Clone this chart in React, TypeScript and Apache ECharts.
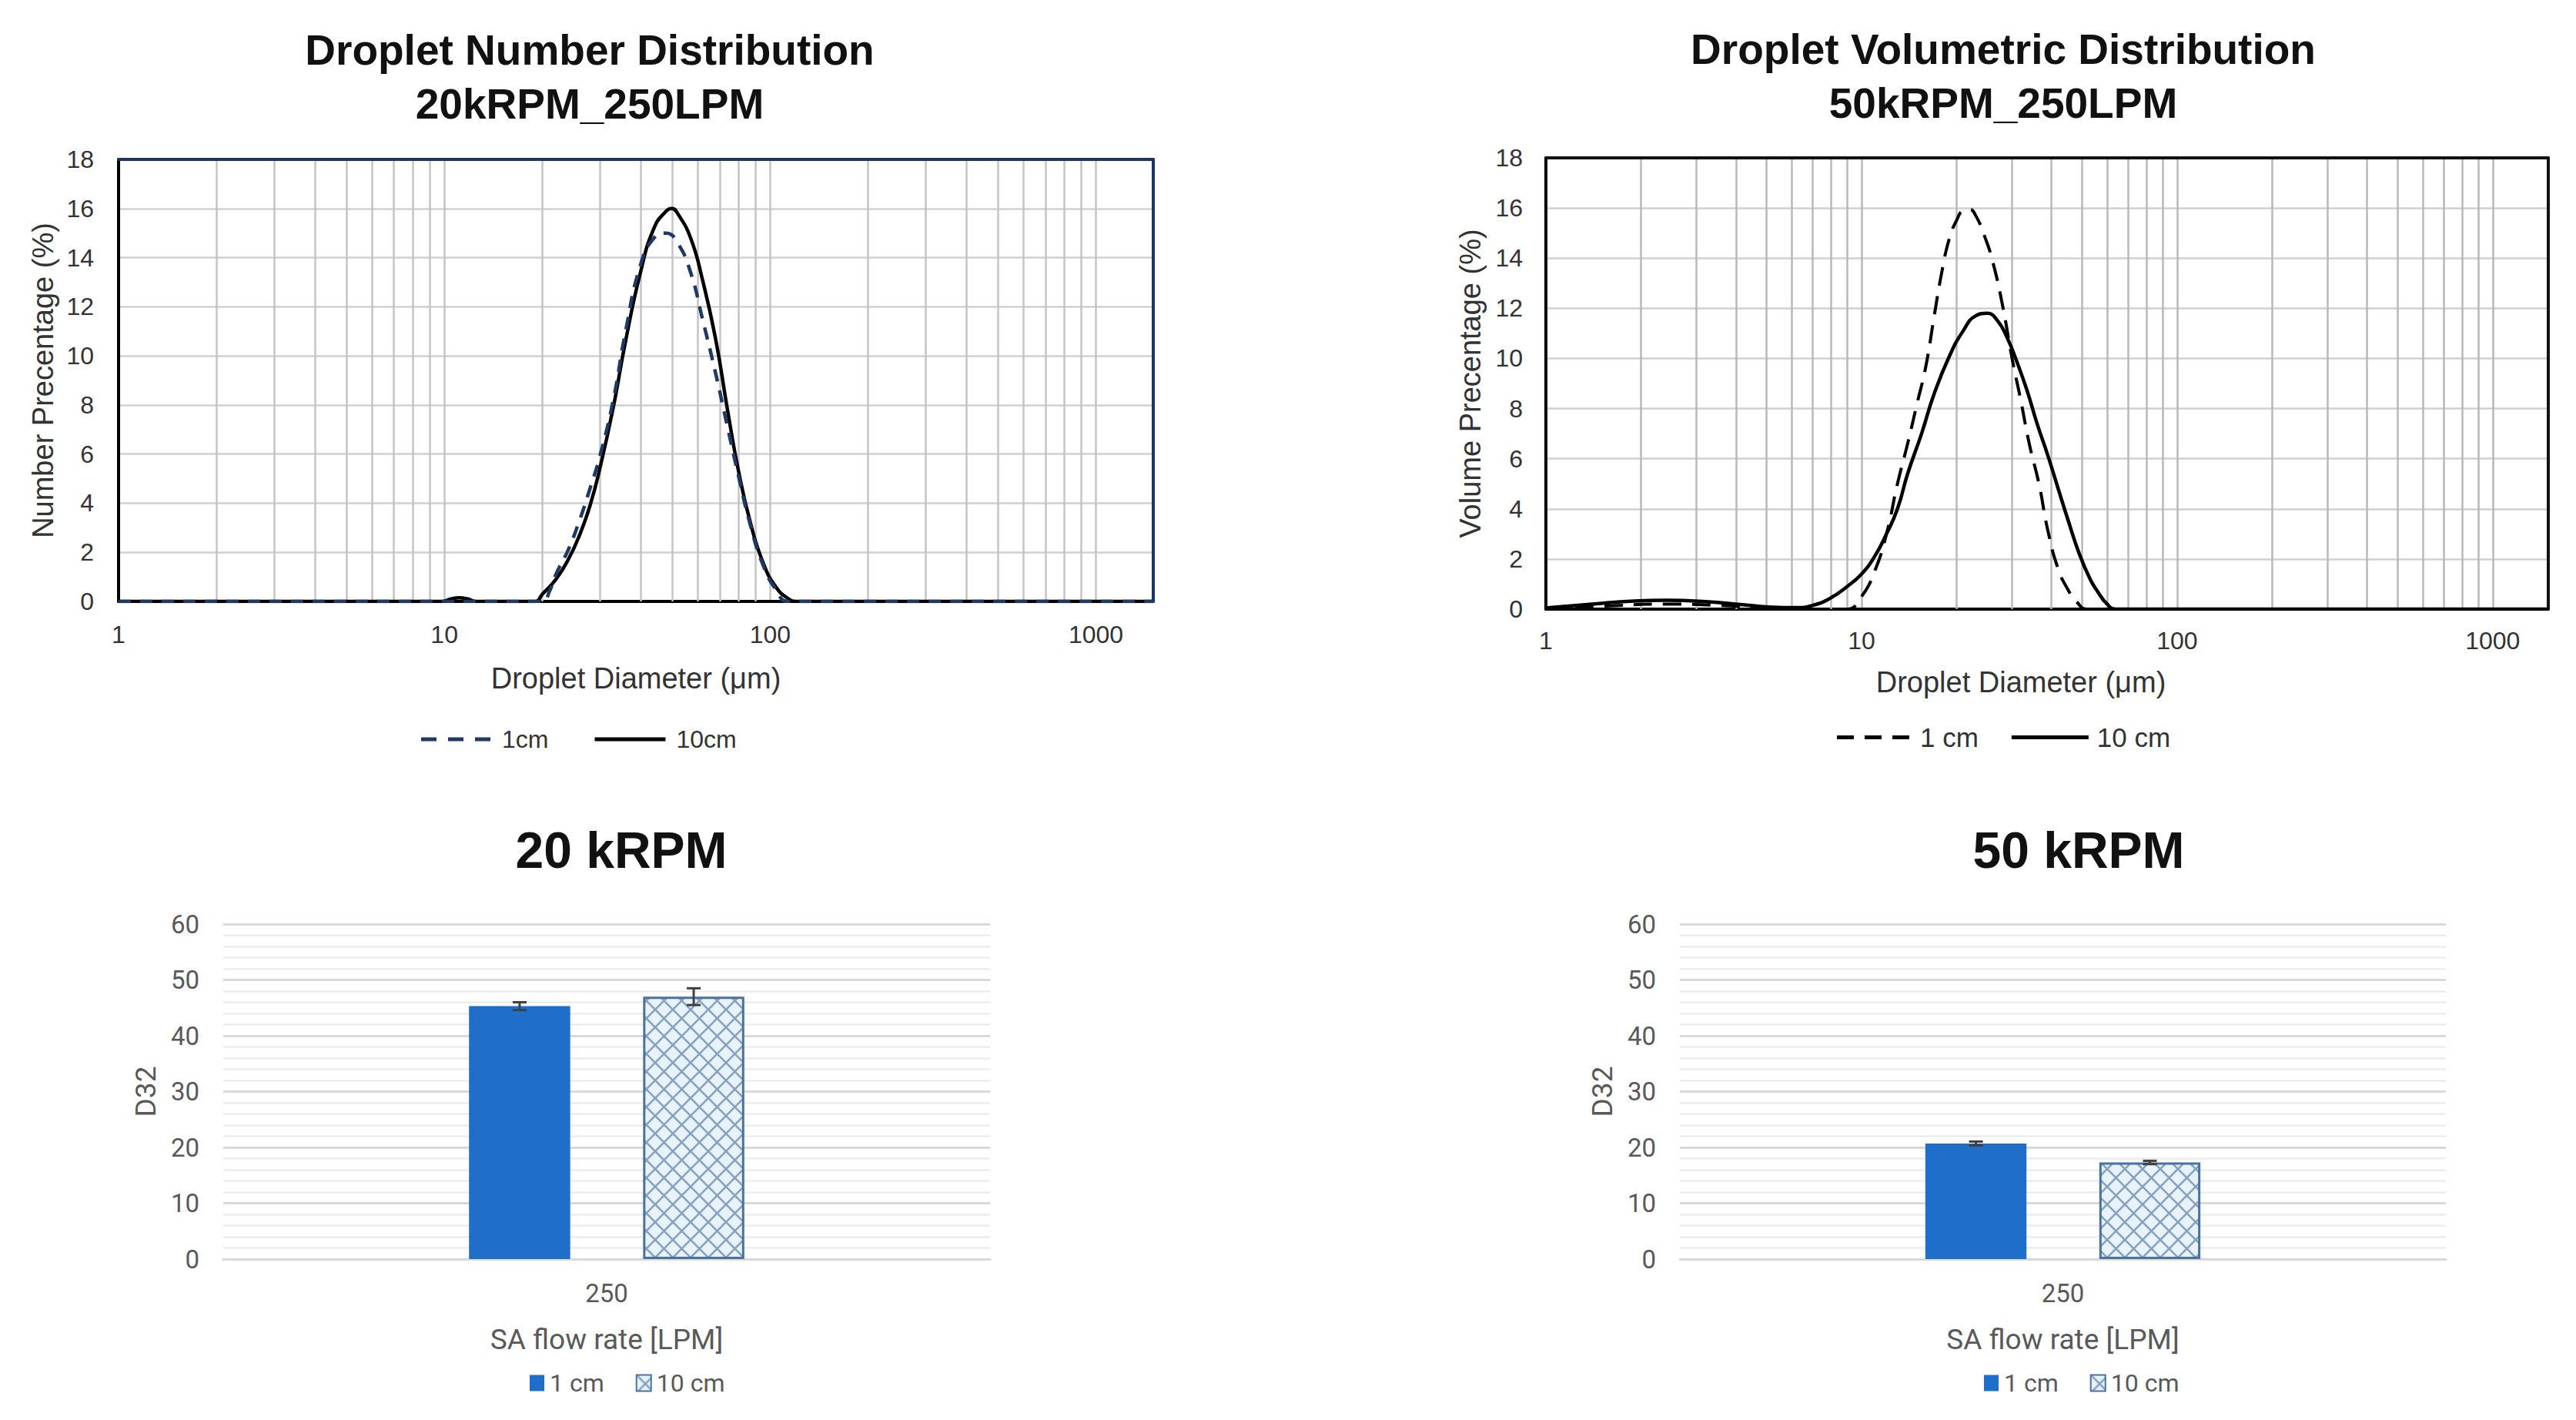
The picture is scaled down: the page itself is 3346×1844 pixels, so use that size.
import React, { useEffect, useRef } from "react";
import * as echarts from "echarts";

// ---------- data ----------
const X_MINOR_GRID = [2, 3, 4, 5, 6, 7, 8, 9, 20, 30, 40, 50, 60, 70, 80, 90, 200, 300, 400, 500, 600, 700, 800, 900];

// Top-left: Droplet Number Distribution 20kRPM_250LPM (diameter µm, number %)
const TL_1CM_D = [1, 20, 21, 22, 24, 26, 28, 30, 33, 36, 40, 44, 48, 52, 57, 62, 68, 74, 80, 87, 95, 104, 114, 1500];
const TL_1CM_V = [0, 0, 0.4, 1.1, 2.1, 3.3, 4.6, 5.9, 8.2, 11, 13.7, 14.8, 15, 14.6, 13.4, 11.5, 9.3, 7.1, 5.1, 3.1, 1.5, 0.5, 0, 0];
const TL_10CM_D = [1, 9.8, 10.5, 11.1, 11.8, 12.5, 19, 20, 22, 24, 26, 28, 30, 33, 36, 40, 44, 48, 50, 52, 57, 62, 68, 74, 80, 87, 95, 104, 114, 120, 1500];
const TL_10CM_V = [0, 0, 0.1, 0.15, 0.1, 0, 0, 0.3, 0.9, 1.7, 2.7, 3.9, 5.4, 7.9, 10.6, 13.4, 15.2, 15.9, 16, 15.8, 14.8, 13.1, 10.7, 7.8, 5.3, 3.2, 1.6, 0.6, 0.1, 0, 0];

// Top-right: Droplet Volumetric Distribution 50kRPM_250LPM (diameter µm, volume %)
const TR_1CM_D = [1, 1.5, 2.4, 3.5, 5, 6.5, 9, 10, 11, 12, 13, 14, 15, 16, 17, 18, 19, 20, 21, 22, 23, 24.5, 26, 28, 30, 32, 34, 36.5, 39, 42, 45, 48, 52, 1500];
const TR_1CM_V = [0.03, 0.12, 0.2, 0.15, 0.05, 0, 0, 0.5, 1.5, 3, 5, 6.6, 8.2, 9.7, 11.7, 13.5, 14.8, 15.5, 15.9, 15.95, 15.7, 14.9, 13.9, 12.1, 10, 8.3, 6.6, 5, 3.1, 1.6, 0.8, 0.3, 0, 0];
const TR_10CM_D = [1, 1.4, 1.9, 2.4, 3.2, 4.2, 5.2, 6.2, 7, 8, 9, 10, 11, 12, 13, 14, 15.5, 17, 19, 21, 23, 25, 27, 29, 31, 33.5, 36, 39, 42, 45, 49, 53, 56, 60, 64, 1500];
const TR_10CM_V = [0.05, 0.2, 0.32, 0.35, 0.3, 0.18, 0.08, 0.06, 0.15, 0.45, 0.9, 1.4, 2.1, 3, 4, 5.4, 7, 8.6, 10.1, 11.1, 11.7, 11.8, 11.5, 10.8, 9.9, 8.7, 7.4, 6.1, 4.8, 3.6, 2.2, 1.2, 0.7, 0.2, 0, 0];

// Bottom: D32 at SA flow rate 250 LPM
const FLOW_CATEGORIES = ["250"];
const D32_20K = [45.3, 47.0]; // 1 cm, 10 cm
const D32_20K_ERR = [0.7, 1.5];
const D32_50K = [20.7, 17.3];
const D32_50K_ERR = [0.35, 0.3];

// ---------- styles ----------
const ARIAL = "'Liberation Sans', Arial, sans-serif";
const CALIBRI = "'Liberation Sans Narrow', 'Roboto', sans-serif";
const BAR_BLUE = "#1f6fca";
const HATCH_BORDER = "#4a72a0";
const BAR_W = 0.132;
const BAR_GAP = 0.72;
const BAR_OFFSET_FRAC = (BAR_W * (1 + BAR_GAP)) / 2;

const hatchSvg =
  "<svg xmlns='http://www.w3.org/2000/svg' width='23' height='23'>" +
  "<rect width='23' height='23' fill='#e8f2fb'/>" +
  "<path d='M0 0L23 23M23 0L0 23' stroke='#86a2c0' stroke-width='2.6'/></svg>";
const HATCH = {
  image: "data:image/svg+xml;charset=utf-8," + encodeURIComponent(hatchSvg),
  repeat: "repeat",
  imageWidth: 23,
  imageHeight: 23,
};

const zip = (d: number[], v: number[]) => d.map((x, i) => [x, v[i]]);

const pow10Label = (v: number) => {
  const l = Math.log10(v);
  return Math.abs(l - Math.round(l)) < 1e-6 ? String(Math.round(v)) : "";
};

function gridMarkLine(color: string) {
  return {
    silent: true,
    symbol: ["none", "none"],
    z: 1,
    label: { show: false },
    emphasis: { disabled: true },
    lineStyle: { color, width: 2.5, type: "solid" },
    data: X_MINOR_GRID.map((v) => ({ xAxis: v })),
  };
}

function distAxes(gi: number, opts: any) {
  const xAxes = [
    {
      type: "log",
      gridIndex: gi,
      min: 1,
      max: 1500,
      logBase: 10,
      axisLine: { show: true, onZero: false, lineStyle: { color: "#000", width: 4 } },
      axisTick: { show: false },
      axisLabel: { formatter: pow10Label, margin: opts.labelMargin, fontSize: 32, color: "#333", fontFamily: ARIAL },
      splitLine: { show: true, lineStyle: { color: opts.vGrid, width: 2.5 } },
      name: "Droplet Diameter (μm)",
      nameLocation: "middle",
      nameGap: opts.xNameGap,
      nameTextStyle: { fontSize: 38, color: "#333", fontFamily: ARIAL, padding: opts.xNamePad },
    },
    {
      type: "value",
      gridIndex: gi,
      position: "top",
      min: 0,
      max: 1,
      z: 3,
      axisLine: { show: true, onZero: false, lineStyle: { color: opts.border, width: 4 } },
      axisTick: { show: false },
      axisLabel: { show: false },
      splitLine: { show: false },
    },
  ];
  const yAxes = [
    {
      type: "value",
      gridIndex: gi,
      min: 0,
      max: 18,
      interval: 2,
      axisLine: { show: true, onZero: false, lineStyle: { color: "#000", width: 4 } },
      axisTick: { show: false },
      axisLabel: { margin: opts.yLabelMargin, fontSize: 32, color: "#333", fontFamily: ARIAL },
      splitLine: { show: true, lineStyle: { color: "#d0d0d0", width: 2.5 } },
      name: opts.yName,
      nameLocation: "middle",
      nameGap: 79,
      nameTextStyle: { fontSize: 38, color: "#333", fontFamily: ARIAL },
    },
    {
      type: "value",
      gridIndex: gi,
      position: "right",
      min: 0,
      max: 1,
      z: 3,
      axisLine: { show: true, onZero: false, lineStyle: { color: opts.border, width: 4 } },
      axisTick: { show: false },
      axisLabel: { show: false },
      splitLine: { show: false },
    },
  ];
  return { xAxes, yAxes };
}

function barAxes(gi: number) {
  return {
    x: {
      type: "category",
      gridIndex: gi,
      data: FLOW_CATEGORIES,
      axisLine: { show: true, lineStyle: { color: "#d9d9d9", width: 3 } },
      axisTick: { show: false },
      axisLabel: { margin: 28, fontSize: 33, color: "#595959", fontFamily: CALIBRI },
      name: "SA flow rate [LPM]",
      nameLocation: "middle",
      nameGap: 86,
      nameTextStyle: { fontSize: 37, color: "#595959", fontFamily: CALIBRI },
    },
    y: {
      type: "value",
      gridIndex: gi,
      min: 0,
      max: 60,
      interval: 10,
      axisLine: { show: false },
      axisTick: { show: false },
      minorTick: { show: false, splitNumber: 5 },
      minorSplitLine: { show: true, lineStyle: { color: "#ececec", width: 2.5 } },
      splitLine: { show: true, lineStyle: { color: "#d9d9d9", width: 3 } },
      axisLabel: { margin: 31, fontSize: 33, color: "#595959", fontFamily: CALIBRI },
      name: "D32",
      nameLocation: "middle",
      nameGap: 82,
      nameTextStyle: { fontSize: 37, color: "#595959", fontFamily: CALIBRI },
    },
  };
}

const errRender = (params: any, api: any) => {
  const cat = api.value(0);
  const v = api.value(1);
  const e = api.value(2);
  const side = api.value(3);
  const band = api.size([1, 0])[0];
  const cx = api.coord([cat, v])[0] + side * band * BAR_OFFSET_FRAC;
  const yTop = api.coord([cat, v + e])[1];
  const yBot = api.coord([cat, v - e])[1];
  const cap = 9;
  const style = { stroke: "#404040", lineWidth: 3 };
  return {
    type: "group",
    children: [
      { type: "line", shape: { x1: cx, y1: yTop, x2: cx, y2: yBot }, style },
      { type: "line", shape: { x1: cx - cap, y1: yTop, x2: cx + cap, y2: yTop }, style },
      { type: "line", shape: { x1: cx - cap, y1: yBot, x2: cx + cap, y2: yBot }, style },
    ],
  };
};

function barSeries(gi: number, prefix: string, vals: number[], errs: number[]) {
  return [
    {
      type: "bar",
      name: prefix + "_1",
      xAxisIndex: gi,
      yAxisIndex: gi,
      data: [vals[0]],
      barWidth: BAR_W * 100 + "%",
      barGap: BAR_GAP * 100 + "%",
      itemStyle: { color: BAR_BLUE },
      emphasis: { disabled: true },
    },
    {
      type: "bar",
      name: prefix + "_10",
      xAxisIndex: gi,
      yAxisIndex: gi,
      data: [vals[1]],
      barWidth: BAR_W * 100 + "%",
      barGap: BAR_GAP * 100 + "%",
      itemStyle: { color: HATCH, borderColor: HATCH_BORDER, borderWidth: 3 },
      emphasis: { disabled: true },
    },
    {
      type: "custom",
      name: prefix + "_err",
      xAxisIndex: gi,
      yAxisIndex: gi,
      z: 4,
      renderItem: errRender,
      encode: { x: 0, y: 1 },
      data: [
        [0, vals[0], errs[0], -1],
        [0, vals[1], errs[1], 1],
      ],
      silent: true,
    },
  ];
}

function curve(name: string, axis: number, d: number[], v: number[], color: string, width: number, dash: number[] | null, z: number, mark?: string) {
  const s: any = {
    type: "line",
    name,
    xAxisIndex: axis,
    yAxisIndex: axis,
    data: zip(d, v),
    smooth: 0.5,
    symbol: "none",
    z,
    lineStyle: { color, width, type: dash ? dash : "solid", join: "round", cap: "butt" },
    itemStyle: { color },
  };
  if (mark) s.markLine = gridMarkLine(mark);
  return s;
}

function buildOption() {
  const tl = distAxes(0, {
    border: "#1b3560",
    vGrid: "#c4c4c4",
    labelMargin: 27,
    xNameGap: 81,
    xNamePad: [0, 0, 0, 0],
    yLabelMargin: 32,
    yName: "Number Precentage (%)",
  });
  const tr = distAxes(1, {
    border: "#111",
    vGrid: "#b8b8b8",
    labelMargin: 25,
    xNameGap: 76,
    xNamePad: [0, 68, 0, 0],
    yLabelMargin: 30,
    yName: "Volume Precentage (%)",
  });
  const bl = barAxes(2);
  const br = barAxes(3);

  const xAxis = [...tl.xAxes, ...tr.xAxes, bl.x, br.x];
  const yAxis = [...tl.yAxes, ...tr.yAxes, bl.y, br.y];

  const series: any[] = [
    curve("1cm", 0, TL_1CM_D, TL_1CM_V, "#1f3864", 4.5, [16, 12], 3, "#c4c4c4"),
    curve("10cm", 0, TL_10CM_D, TL_10CM_V, "#000", 4.5, null, 2),
    curve("1 cm", 2, TR_1CM_D, TR_1CM_V, "#000", 4, [24, 14], 3, "#b8b8b8"),
    curve("10 cm", 2, TR_10CM_D, TR_10CM_V, "#000", 4.5, null, 2),
    ...barSeries(4, "bl", D32_20K, D32_20K_ERR),
    ...barSeries(5, "br", D32_50K, D32_50K_ERR),
  ];

  const barLegendLabels: Record<string, string> = {
    bl_1: "1 cm",
    bl_10: "10 cm",
    br_1: "1 cm",
    br_10: "10 cm",
  };

  const barLegend = (prefix: string, left: number) => ({
    data: [
      { name: prefix + "_1", icon: "rect", itemStyle: { borderWidth: 0 } },
      { name: prefix + "_10", icon: "rect", itemStyle: { borderColor: HATCH_BORDER, borderWidth: 2 } },
    ],
    left,
    top: 1780,
    padding: 0,
    itemWidth: 19,
    itemHeight: 21,
    itemGap: 41,
    selectedMode: false,
    formatter: (n: string) => barLegendLabels[n] || n,
    textStyle: { fontSize: 32, color: "#595959", fontFamily: CALIBRI, padding: [0, 0, 0, 2] },
  });

  const titleStyle = (size: number) => ({
    fontFamily: ARIAL,
    fontWeight: "bold",
    fontSize: size,
    lineHeight: 70,
    color: "#111",
  });

  return {
    animation: false,
    backgroundColor: "#ffffff",
    title: [
      { text: "Droplet Number Distribution\n20kRPM_250LPM", left: 766, top: 30, textAlign: "center", padding: 0, textStyle: titleStyle(55) },
      { text: "Droplet Volumetric Distribution\n50kRPM_250LPM", left: 2602, top: 29, textAlign: "center", padding: 0, textStyle: titleStyle(55) },
      { text: "20 kRPM", left: 807, top: 1069, textAlign: "center", padding: 0, textStyle: titleStyle(66) },
      { text: "50 kRPM", left: 2700, top: 1069, textAlign: "center", padding: 0, textStyle: titleStyle(66) },
    ],
    legend: [
      {
        data: [
          { name: "1cm", icon: "path://M0,0h20v5h-20z M35,0h20v5h-20z M70,0h20v5h-20z" },
          { name: "10cm", icon: "path://M0,0h92v5h-92z" },
        ],
        left: 547,
        top: 944,
        padding: 0,
        itemWidth: 92,
        itemHeight: 5,
        itemGap: 60,
        selectedMode: false,
        itemStyle: { borderWidth: 0 },
        textStyle: { fontSize: 32, color: "#333", fontFamily: ARIAL, padding: [0, 0, 0, 9] },
      },
      {
        data: [
          { name: "1 cm", icon: "path://M0,0h22v5h-22z M36,0h22v5h-22z M72,0h22v5h-22z" },
          { name: "10 cm", icon: "path://M0,0h100v5h-100z" },
        ],
        left: 2386,
        top: 940,
        padding: 0,
        itemWidth: 100,
        itemHeight: 5,
        itemGap: 43,
        selectedMode: false,
        itemStyle: { borderWidth: 0 },
        textStyle: { fontSize: 35, color: "#333", fontFamily: ARIAL, padding: [0, 0, 0, 6] },
      },
      barLegend("bl", 688),
      barLegend("br", 2577),
    ],
    grid: [
      { left: 154, top: 207, width: 1344, height: 574, outerBoundsMode: "none" },
      { left: 2008, top: 205, width: 1302, height: 586, outerBoundsMode: "none" },
      { left: 290, top: 1200, width: 996, height: 435, outerBoundsMode: "none" },
      { left: 2182, top: 1200, width: 995, height: 435, outerBoundsMode: "none" },
    ],
    xAxis,
    yAxis,
    series,
  };
}

export default function App() {
  const ref = useRef<HTMLDivElement>(null);
  useEffect(() => {
    document.body.style.margin = "0";
    const chart = echarts.init(ref.current as HTMLDivElement, null, {
      renderer: "svg",
      width: 3346,
      height: 1844,
    });
    chart.setOption(buildOption() as any);
    return () => chart.dispose();
  }, []);
  return <div ref={ref} style={{ width: 3346, height: 1844, background: "#fff" }} />;
}
